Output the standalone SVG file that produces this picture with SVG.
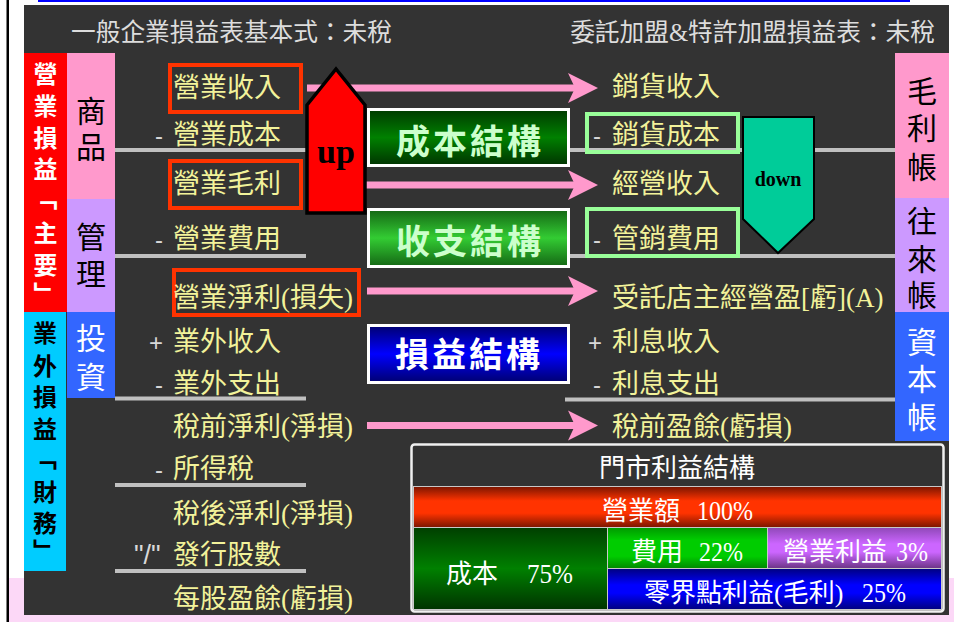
<svg xmlns="http://www.w3.org/2000/svg" width="954" height="622" viewBox="0 0 954 622">
<defs>
  <linearGradient id="gCost" x1="0" y1="0" x2="0" y2="1"><stop offset="0" stop-color="#003A00"/><stop offset="0.5" stop-color="#008000"/><stop offset="1" stop-color="#003300"/></linearGradient>
  <linearGradient id="gFlow" x1="0" y1="0" x2="0" y2="1"><stop offset="0" stop-color="#146614"/><stop offset="0.5" stop-color="#33CC33"/><stop offset="1" stop-color="#146614"/></linearGradient>
  <linearGradient id="gPL" x1="0" y1="0" x2="0" y2="1"><stop offset="0" stop-color="#000070"/><stop offset="0.5" stop-color="#0000FF"/><stop offset="1" stop-color="#000070"/></linearGradient>
  <linearGradient id="gRed" x1="0" y1="0" x2="0" y2="1"><stop offset="0" stop-color="#7A1500"/><stop offset="0.35" stop-color="#FF3300"/><stop offset="0.65" stop-color="#FF3300"/><stop offset="1" stop-color="#7A1500"/></linearGradient>
  <linearGradient id="gDk" x1="0" y1="0" x2="0" y2="1"><stop offset="0" stop-color="#003F00"/><stop offset="0.5" stop-color="#008000"/><stop offset="1" stop-color="#003300"/></linearGradient>
  <linearGradient id="gGr" x1="0" y1="0" x2="0" y2="1"><stop offset="0" stop-color="#009900"/><stop offset="0.3" stop-color="#00CC00"/><stop offset="0.7" stop-color="#00CC00"/><stop offset="1" stop-color="#008800"/></linearGradient>
  <linearGradient id="gPu" x1="0" y1="0" x2="0" y2="1"><stop offset="0" stop-color="#8F48B8"/><stop offset="0.4" stop-color="#CC66FF"/><stop offset="0.6" stop-color="#CC66FF"/><stop offset="1" stop-color="#6B3485"/></linearGradient>
  <linearGradient id="gBl" x1="0" y1="0" x2="0" y2="1"><stop offset="0" stop-color="#000080"/><stop offset="0.4" stop-color="#0000FF"/><stop offset="0.6" stop-color="#0000FF"/><stop offset="1" stop-color="#000080"/></linearGradient>
  <marker id="ah" markerUnits="userSpaceOnUse" markerWidth="32" markerHeight="32" viewBox="0 0 32 32" refX="8" refY="16" orient="auto"><path d="M0,1 L30,16 L0,31 L7,16 Z" fill="#FF99CC"/></marker>
</defs>
<style>
  .y{font-family:"Liberation Serif","Noto Sans CJK TC",serif;font-size:27px;fill:#F2F29A}
  .s{font-family:"Liberation Sans",sans-serif;font-size:24px;fill:#D8D8D8}
  .t{font-family:"Liberation Serif","Noto Sans CJK TC",sans-serif;font-size:24.7px;fill:#DDDDDD}
  .vw{font-family:"Noto Sans CJK TC",sans-serif;font-size:24px;font-weight:bold;fill:#FFFFFF;text-anchor:middle}
  .vk{font-family:"Noto Sans CJK TC",sans-serif;font-size:24px;font-weight:bold;fill:#000000;text-anchor:middle}
  .bk{font-family:"Noto Sans CJK TC",sans-serif;font-size:30px;fill:#000000;text-anchor:middle}
  .bw{font-family:"Noto Sans CJK TC",sans-serif;font-size:30px;fill:#FFFFFF;text-anchor:middle}
  .gl{stroke:#C0C0C0;stroke-width:4}
  .pa{stroke:#FF99CC;stroke-width:7;marker-end:url(#ah)}
  .rb{fill:none;stroke:#FF3300;stroke-width:4}
  .gb{fill:none;stroke:#99FF99;stroke-width:4}
  .bx{font-family:"Noto Sans CJK TC",sans-serif;font-size:34px;font-weight:bold;letter-spacing:3px}
  .tb{font-family:"Liberation Serif","Noto Sans CJK TC",serif;font-size:26px;fill:#FFFFFF}
  .tn{font-family:"Liberation Serif",serif;font-size:27px;fill:#FFFFFF}
  .cell{stroke:#C8C8C8;stroke-width:1}
  .ser{font-family:"Liberation Serif",serif;font-weight:bold;fill:#000000;text-anchor:middle}
</style>

<!-- page background -->
<rect width="954" height="622" fill="#FFFFFF"/>
<rect x="9" y="578" width="945" height="44" fill="#FCD8F7"/>
<rect x="6.5" y="0" width="2.5" height="622" fill="#000000"/>
<rect x="38" y="0" width="872" height="2" fill="#0000FF"/>
<rect x="24" y="5" width="925" height="610" fill="#333333"/>

<!-- titles -->
<g id="title-left"><text class="t" x="71" y="41">一般企業損益表基本式：未稅</text></g>
<g id="title-right"><text class="t" x="935" y="41" text-anchor="end">委託加盟&amp;特許加盟損益表：未稅</text></g>

<!-- left category columns -->
<g id="col-main">
  <rect x="24" y="53" width="43" height="259" fill="#FF0000"/>
  <text class="vw" x="45.5" y="83">營</text><text class="vw" x="45.5" y="115">業</text>
  <text class="vw" x="45.5" y="147">損</text><text class="vw" x="45.5" y="178">益</text>
  <text class="vw" x="45.5" y="207">﹁</text><text class="vw" x="45.5" y="242">主</text>
  <text class="vw" x="45.5" y="274">要</text><text class="vw" x="45.5" y="303">﹂</text>
</g>
<g id="col-nonop">
  <rect x="24" y="312" width="42" height="259" fill="#00CCFF"/>
  <text class="vk" x="45" y="342">業</text><text class="vk" x="45" y="375">外</text>
  <text class="vk" x="45" y="406">損</text><text class="vk" x="45" y="438">益</text>
  <text class="vk" x="45" y="467">﹁</text><text class="vk" x="45" y="501">財</text>
  <text class="vk" x="45" y="532">務</text><text class="vk" x="45" y="560">﹂</text>
</g>
<g id="col-goods">
  <rect x="67" y="53" width="48" height="146" fill="#FF99CC"/>
  <text class="bk" x="91" y="122">商</text><text class="bk" x="91" y="158">品</text>
</g>
<g id="col-manage">
  <rect x="67" y="199" width="48" height="113" fill="#CC99FF"/>
  <text class="bk" x="91" y="248">管</text><text class="bk" x="91" y="285">理</text>
</g>
<g id="col-invest">
  <rect x="67" y="312" width="48" height="86" fill="#3366FF"/>
  <text class="bw" x="91" y="349">投</text><text class="bw" x="91" y="388">資</text>
</g>

<!-- right category columns -->
<g id="col-gross">
  <rect x="895" y="53" width="54" height="145" fill="#FF99CC"/>
  <text class="bk" x="922" y="102">毛</text><text class="bk" x="922" y="139">利</text><text class="bk" x="922" y="178">帳</text>
</g>
<g id="col-current">
  <rect x="895" y="198" width="54" height="114" fill="#CC99FF"/>
  <text class="bk" x="922" y="232">往</text><text class="bk" x="922" y="270">來</text><text class="bk" x="922" y="306">帳</text>
</g>
<g id="col-capital">
  <rect x="895" y="312" width="54" height="129" fill="#3366FF"/>
  <text class="bw" x="922" y="353">資</text><text class="bw" x="922" y="390">本</text><text class="bw" x="922" y="428">帳</text>
</g>

<!-- connectors -->
<g id="connectors">
  <line class="gl" x1="115" y1="150" x2="306" y2="150"/>
  <line class="gl" x1="115" y1="256" x2="306" y2="256"/>
  <line class="gl" x1="115" y1="398.5" x2="306" y2="398.5"/>
  <line class="gl" x1="115" y1="485" x2="306" y2="485"/>
  <line class="gl" x1="115" y1="571" x2="306" y2="571"/>
  <line class="gl" x1="570" y1="150" x2="895" y2="150"/>
  <line class="gl" x1="570" y1="256" x2="895" y2="256"/>
  <line class="gl" x1="565" y1="399.5" x2="895" y2="399.5"/>
  <line class="pa" x1="307" y1="88" x2="576" y2="88"/>
  <line class="pa" x1="340" y1="185" x2="576" y2="185"/>
  <line class="pa" x1="367" y1="291" x2="576" y2="291"/>
  <line class="pa" x1="367" y1="425.5" x2="576" y2="425.5"/>
</g>

<!-- left statement items -->
<g id="l-revenue"><rect class="rb" x="170" y="65" width="131" height="47"/><text class="y" x="173" y="97">營業收入</text></g>
<g id="l-cogs"><text class="s" x="155" y="144">-</text><text class="y" x="173" y="144">營業成本</text></g>
<g id="l-gross"><rect class="rb" x="170" y="161" width="131" height="47"/><text class="y" x="173" y="193">營業毛利</text></g>
<g id="l-opex"><text class="s" x="155" y="248">-</text><text class="y" x="173" y="248">營業費用</text></g>
<g id="l-opinc"><rect class="rb" x="174" y="270" width="185" height="45"/><text class="y" x="173" y="307">營業淨利(損失)</text></g>
<g id="l-nonopinc"><text class="s" x="149" y="351">+</text><text class="y" x="173" y="351">業外收入</text></g>
<g id="l-nonopexp"><text class="s" x="155" y="393">-</text><text class="y" x="173" y="393">業外支出</text></g>
<g id="l-pretax"><text class="y" x="173" y="436">稅前淨利(淨損)</text></g>
<g id="l-tax"><text class="s" x="155" y="478">-</text><text class="y" x="173" y="478">所得稅</text></g>
<g id="l-aftertax"><text class="y" x="173" y="523">稅後淨利(淨損)</text></g>
<g id="l-shares"><text class="s" x="134" y="564" style="font-size:27px">"/"</text><text class="y" x="173" y="564">發行股數</text></g>
<g id="l-eps"><text class="y" x="173" y="608">每股盈餘(虧損)</text></g>

<!-- right statement items -->
<g id="r-sales"><text class="y" x="612" y="96">銷貨收入</text></g>
<g id="r-cogs"><rect class="gb" x="587" y="114" width="151" height="38"/><text class="s" x="593" y="144">-</text><text class="y" x="612" y="144">銷貨成本</text></g>
<g id="r-opinc"><text class="y" x="612" y="193">經營收入</text></g>
<g id="r-opex"><rect class="gb" x="587" y="209" width="151" height="47"/><text class="s" x="593" y="248">-</text><text class="y" x="612" y="248">管銷費用</text></g>
<g id="r-owner"><text class="y" x="612" y="307">受託店主經營盈[虧](A)</text></g>
<g id="r-intinc"><text class="s" x="588" y="351">+</text><text class="y" x="612" y="351">利息收入</text></g>
<g id="r-intexp"><text class="s" x="593" y="393">-</text><text class="y" x="612" y="393">利息支出</text></g>
<g id="r-pretax"><text class="y" x="612" y="436">稅前盈餘(虧損)</text></g>

<!-- up / down arrows -->
<g id="up-arrow">
  <polygon points="307,105 336,69 365,105 365,213 307,213" fill="#FF0000" stroke="#000000" stroke-width="3.5" stroke-linejoin="miter"/>
  <text class="ser" x="336" y="163" style="font-size:34px">up</text>
</g>
<g id="down-arrow">
  <polygon points="743,117 814,117 814,219 778,253 743,219" fill="#00CC99" stroke="#000000" stroke-width="2"/>
  <text class="ser" x="778" y="186" style="font-size:20px">down</text>
</g>

<!-- structure boxes -->
<g id="box-cost">
  <rect x="368.5" y="109.5" width="200" height="56" fill="url(#gCost)" stroke="#FFFFFF" stroke-width="3"/>
  <text class="bx" x="396" y="154" fill="#CCFFCC">成本結構</text>
</g>
<g id="box-flow">
  <rect x="368.5" y="209.5" width="200" height="57" fill="url(#gFlow)" stroke="#FFFFFF" stroke-width="3"/>
  <text class="bx" x="396" y="254" fill="#CCFFCC">收支結構</text>
</g>
<g id="box-pl">
  <rect x="368.5" y="325.5" width="200" height="57" fill="url(#gPL)" stroke="#FFFFFF" stroke-width="3"/>
  <text class="bx" x="395" y="367" fill="#FFFFFF">損益結構</text>
</g>

<!-- store profit structure table -->
<g id="profit-table">
  <rect x="411.5" y="444.5" width="532" height="167" rx="3" fill="#333333" stroke="#F0F0F0" stroke-width="2.5"/>
  <text class="tb" x="677" y="477" text-anchor="middle">門市利益結構</text>
  <rect class="cell" x="413.5" y="486.5" width="528" height="41" fill="url(#gRed)"/>
  <text class="tb" x="602" y="520">營業額</text>
  <text class="tn" x="697" y="520" textLength="56" lengthAdjust="spacingAndGlyphs">100%</text>
  <rect class="cell" x="413.5" y="527.5" width="194" height="82" fill="url(#gDk)"/>
  <text class="tb" x="446" y="583">成本</text>
  <text class="tn" x="527" y="583" textLength="46" lengthAdjust="spacingAndGlyphs">75%</text>
  <rect class="cell" x="607.5" y="527.5" width="160" height="41" fill="url(#gGr)"/>
  <text class="tb" x="631" y="561">費用</text>
  <text class="tn" x="699" y="561" textLength="44" lengthAdjust="spacingAndGlyphs">22%</text>
  <rect class="cell" x="767.5" y="527.5" width="174" height="41" fill="url(#gPu)"/>
  <text class="tb" x="783" y="561">營業利益</text>
  <text class="tn" x="896" y="561" textLength="32" lengthAdjust="spacingAndGlyphs">3%</text>
  <rect class="cell" x="607.5" y="568.5" width="334" height="41" fill="url(#gBl)"/>
  <text class="tb" x="644" y="602">零界點利益(毛利)</text>
  <text class="tn" x="862" y="602" textLength="44" lengthAdjust="spacingAndGlyphs">25%</text>
</g>
</svg>
